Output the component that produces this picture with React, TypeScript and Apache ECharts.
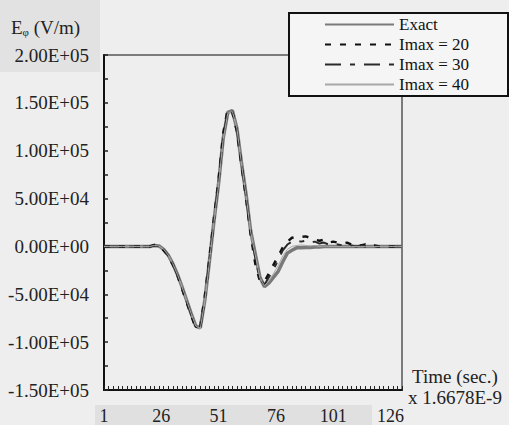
import React, { useEffect, useRef } from "react";
import * as echarts from "echarts";

// Time sample (units of 1.6678E-9 s)
const timeSteps = [
  1, 3, 5, 7, 9, 11, 13, 15, 17, 19, 21, 23, 25, 27, 29, 31, 33, 35, 37, 39, 41,
  43, 45, 47, 49, 51, 53, 55, 57, 59, 61, 63, 65, 67, 69, 71, 73, 75, 77, 79, 81,
  83, 85, 87, 89, 91, 93, 95, 97, 99, 101, 103, 105, 107, 109, 111, 113, 115, 117,
  119, 121, 123, 125, 127, 129, 131,
];

const exact = [
  0, 0, 0, 0, 0, 0, 0, 0, 0, 0, 0, 1000, 500, -3000, -9000, -18000, -29000, -42000, -56000, -70000, -83000,
  -85000, -56000, -15000, 27000, 66000, 113000, 140000, 142000, 123000, 87000, 54000, 16000, -8000, -32000, -42000, -38000, -32000, -26000, -16000, -7000,
  -4000, -1500, -1500, -1000, -1000, -500, -500, 0, 0, 0, 0, 0, 0, 0, 0, 0, 0, 0,
  0, 0, 0, 0, 0, 0, 0,
];

const imax20 = [
  0, 0, 0, 0, 0, 0, 0, 0, 0, 0, 0, 1500, 0, -4000, -10000, -19000, -30000, -44000, -58000, -72000, -85000,
  -84000, -52000, -12000, 30000, 70000, 118000, 144000, 140000, 120000, 84000, 50000, 12000, -18000, -36000, -37000, -28000, -19000, -10000, -1000, 5000,
  9000, 10000, 10000, 10500, 9000, 7000, 6000, 7000, 4000, 5000, 4000, 3000, 4000, 2000, 3000, 1000, 2000, 0,
  1000, 0, 1000, 0, 0, 0, 0,
];

const imax30 = [
  0, 0, 0, 0, 0, 0, 0, 0, 0, 0, 0, 1000, 0, -3500, -9500, -18500, -30000, -43000, -57000, -71000, -84000,
  -86000, -55000, -14000, 28000, 68000, 115000, 141000, 141000, 122000, 86000, 52000, 14000, -12000, -34000, -40000, -32000, -24000, -14000, -4000, 2000,
  5000, 6000, 5000, 6000, 4000, 5000, 3000, 4000, 2000, 3000, 2000, 1000, 2000, 1000, 0, 1000, 0, 0,
  0, 0, 0, 0, 0, 0, 0,
];

const imax40 = [
  0, 0, 0, 0, 0, 0, 0, 0, 0, 0, 0, 1000, 500, -3000, -9000, -18000, -29000, -42000, -56000, -70000, -83000,
  -86000, -57000, -16000, 26000, 65000, 112000, 139000, 141000, 123000, 86000, 53000, 15000, -9000, -33000, -41000, -36000, -28000, -20000, -10000, -3000,
  0, 1000, 1500, 1000, 500, 1000, 0, 500, 0, 0, 0, 0, 0, 0, 0, 0, 0, 0,
  0, 0, 0, 0, 0, 0, 0,
];

const seriesNames = ["Exact", "Imax = 20", "Imax = 30", "Imax = 40"];
const xLabelStep = 25;

const SERIF = "Liberation Serif";

function fmtY(v: number): string {
  if (Math.round(v) % 50000 !== 0) return "";
  if (v === 0) return "0.00E+00";
  const s = Math.abs(v).toExponential(2);
  const [m, e] = s.split("e");
  const ex = parseInt(e, 10);
  return (v < 0 ? "-" : "") + m + "E" + (ex < 0 ? "-" : "+") + String(Math.abs(ex)).padStart(2, "0");
}

export default function App() {
  const ref = useRef<HTMLDivElement>(null);
  useEffect(() => {
    document.body.style.margin = "0";
    const chart = echarts.init(ref.current!, undefined, { renderer: "svg" });
    const toData = (vals: number[]) => timeSteps.map((t, i) => [t - 1, vals[i]]);
    const styles = [
      { color: "#7a7a7a", width: 3.5, type: "solid" as any },
      { color: "#111111", width: 2.5, type: [6, 9] as any },
      { color: "#2a2a2a", width: 2, type: [16, 9, 5, 9] as any },
      { color: "#a8a8a8", width: 1, type: "solid" as any },
    ];
    const values = [exact, imax20, imax30, imax40];
    chart.setOption({
      animation: false,
      backgroundColor: "#eeeeee",
      grid: {
        left: 104,
        top: 55,
        right: 107,
        bottom: 35,
        show: true,
        borderColor: "#555",
        borderWidth: 1.5,
        backgroundColor: "transparent",
      },
      legend: {
        orient: "vertical",
        left: 324,
        top: 16,
        padding: 0,
        itemWidth: 69,
        itemHeight: 14,
        itemGap: 3,
        z: 20,
        data: seriesNames,
        itemStyle: { opacity: 0 },
        textStyle: { fontFamily: SERIF, fontSize: 17, color: "#111" },
      },
      graphic: [
        { type: "rect", z: 0, silent: true, shape: { x: 0, y: 0, width: 100, height: 72 }, style: { fill: "#e2e2e2" } },
        { type: "rect", z: 0, silent: true, shape: { x: 95, y: 405, width: 277, height: 20 }, style: { fill: "#e0e0e0" } },
        { type: "rect", z: 10, silent: true, shape: { x: 289, y: 13, width: 219, height: 83 }, style: { fill: "#f5f5f5", stroke: "#111", lineWidth: 2 } },
        {
          type: "text",
          left: 11,
          top: 18,
          z: 5,
          style: {
            text: "{e|E}{s|φ}{e| (V/m)}",
            fill: "#222",
            rich: {
              e: { fontFamily: SERIF, fontSize: 19, fill: "#222" },
              s: { fontFamily: SERIF, fontSize: 11, fill: "#222", padding: [8, 0, 0, 0] },
            },
          },
        },
        {
          type: "text",
          left: 412,
          top: 367,
          z: 5,
          style: { text: "Time (sec.)", fontFamily: SERIF, fontSize: 19, fill: "#222" },
        },
        {
          type: "text",
          left: 408,
          top: 388,
          z: 5,
          style: { text: "x 1.6678E-9", fontFamily: SERIF, fontSize: 19, fill: "#222" },
        },
      ],
      xAxis: [
        {
          type: "value",
          min: 0,
          max: 130,
          interval: 2,
          axisLine: { show: true, onZero: false, lineStyle: { color: "#111", width: 2 } },
          axisTick: { show: true, inside: true, length: 4, lineStyle: { color: "#222", width: 1 } },
          axisLabel: { show: false },
          splitLine: { show: false },
        },
        {
          type: "value",
          position: "bottom",
          min: 0,
          max: 130,
          interval: xLabelStep,
          axisLine: { show: false },
          axisTick: { show: false },
          splitLine: { show: false },
          axisLabel: {
            margin: 17,
            fontFamily: SERIF,
            fontSize: 18,
            color: "#222",
            showMaxLabel: false,
            formatter: (v: number) => (v % xLabelStep === 0 ? String(v + 1) : ""),
          },
        },
      ],
      yAxis: {
        type: "value",
        min: -150000,
        max: 200000,
        interval: 25000,
        axisLine: { show: true, onZero: false, lineStyle: { color: "#111", width: 2 } },
        axisTick: { show: true, inside: true, length: 4, lineStyle: { color: "#222", width: 1.5 } },
        splitLine: { show: false },
        axisLabel: {
          margin: 15,
          fontFamily: SERIF,
          fontSize: 19,
          color: "#222",
          formatter: fmtY,
        },
      },
      series: seriesNames.map((name, i) => ({
        name,
        type: "line",
        xAxisIndex: 0,
        data: toData(values[i]),
        symbol: "none",
        showSymbol: false,
        lineStyle: styles[i],
        itemStyle: { color: styles[i].color },
      })),
    });
    return () => chart.dispose();
  }, []);
  return <div ref={ref} style={{ position: "absolute", left: 0, top: 0, width: 509, height: 425 }} />;
}
